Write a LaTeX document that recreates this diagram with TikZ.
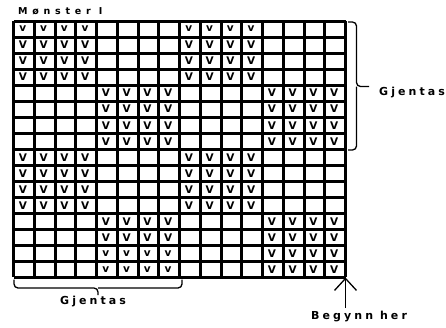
\documentclass[tikz,border=0pt]{standalone}
\usepackage{fontspec}
\setmainfont{DejaVu Sans}
\newfontfamily\spacedfont[LetterSpace=28]{DejaVu Sans}
\newfontfamily\titlefont[LetterSpace=50]{DejaVu Sans}
\usetikzlibrary{arrows.meta}

\tikzset{
    gridline/.style={line width=3pt},
    stitch/.style={inner sep=0pt, font=\fontsize{10.5}{10.5}\selectfont\bfseries},
    caption/.style={anchor=base west, inner sep=0pt,
        font=\fontsize{11}{11}\spacedfont\bfseries},
    bracket/.style={line width=1.3pt, rounded corners=4pt}
}

\begin{document}
\begin{tikzpicture}[x=1pt, y=-1pt]
                \useasboundingbox[fill=white] (0,0) rectangle (446,327);

                % the chart, 16 x 16 cells
                \begin{scope}[shift={(13.5,21)}, x=20.75pt, y=-16.03pt]
                    \foreach \k in {0,...,16} {
                        \draw[gridline] (\k,0) -- (\k,16);
                        \draw[gridline] (0,\k) -- (16,\k);
                    }
                    \foreach \bx/\by in {0/0,2/0,1/1,3/1,0/2,2/2,1/3,3/3}
                        \foreach \i in {0,...,3}
                            \foreach \j in {0,...,3} {
                                \pgfmathtruncatemacro\vcol{4*\bx+\i}
                                \pgfmathtruncatemacro\vrow{4*\by+\j}
                                \pgfmathtruncatemacro\islow{(\vrow==0)||((\bx==1)&&(\vrow>13))}
                                \node[stitch] (v-\vcol-\vrow) at (\vcol+0.45,\vrow+0.5)
                                    {\ifnum\islow=1 v\else V\fi};
                            }
                    \coordinate (corner) at (16,16);
                \end{scope}

                \node[caption, font=\fontsize{9.5}{9.5}\titlefont\bfseries]
                    (title) at (18,14.5) {Mønster I};

                % repeats
                \draw[bracket] (348,22) -- (356.5,22) -- (356.5,86.5) -- (369,86.5);
                \draw[bracket] (348,150) -- (356.5,150) -- (356.5,86.5);
                \node[caption] (rep-right) at (379,95) {Gjentas};
                \draw[bracket] (14,279.5) -- (14,288) -- (98,288) -- (98,295);
                \draw[bracket] (182,279.5) -- (182,288) -- (98,288);
                \node[caption] (rep-bottom) at (60,304) {Gjentas};

                % start here
                \coordinate (tail) at (345.5,308);
                \draw[line width=1.3pt, -{Straight Barb[length=12pt, width=22pt]}]
                    (tail) -- (corner);
                \node[caption] (start) at (311,319) {Begynn her};
            \end{tikzpicture}
\end{document}
